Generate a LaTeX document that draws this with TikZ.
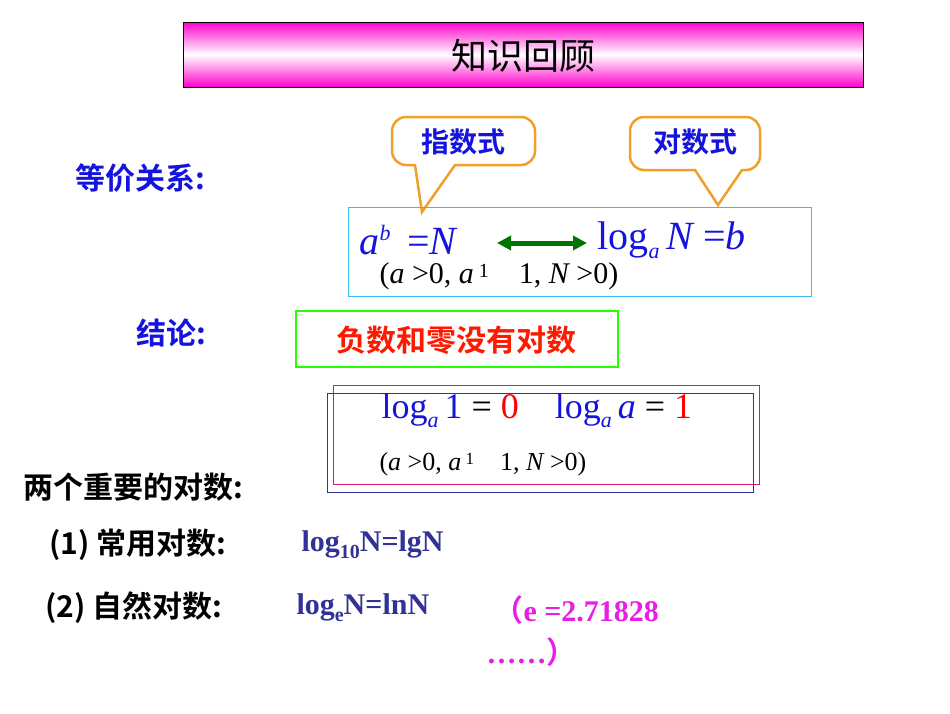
\documentclass[tikz,border=0pt]{standalone}
\usepackage{fontspec}
\setmainfont{Liberation Serif}
\newfontfamily\cjk{Noto Sans CJK SC}[BoldFont={Noto Sans CJK SC Bold}]
\usetikzlibrary{arrows.meta}
\definecolor{blu}{RGB}{20,20,220}
\definecolor{navyt}{RGB}{50,50,150}
\definecolor{orng}{RGB}{240,160,40}
\definecolor{mag}{RGB}{230,30,230}
\newcommand{\iv}[1]{{\itshape #1}}
\newcommand{\sub}[1]{\raisebox{-9pt}{\fontsize{22}{22}\selectfont\itshape #1}}
\begin{document}
\begin{tikzpicture}[x=1pt,y=-1pt,
  cn/.style={font=\cjk\bfseries\fontsize{30}{33}\selectfont},
  fm/.style={font=\fontsize{40}{44}\selectfont,text=blu},
  bl/.style={anchor=west,font=\bfseries\fontsize{30}{33}\selectfont},
  call/.style={draw=orng,line width=2.5pt,fill=white}]
\useasboundingbox (0,0) rectangle (950,713);
% title
\shade[top color=magenta!80!red,bottom color=magenta!80!red,middle color=white,draw=black,line width=0.6pt] (183,22) rectangle (863,87);
\node[font=\cjk\fontsize{36}{40}\selectfont] (title) at (523,56) {知识回顾};
\node[cn,text=blu,anchor=west] (dj) at (72,178) {等价关系:};
% callouts
\draw[call] (422,212) -- (415,165) {[rounded corners=14pt] -- (392,165) -- (392,117) -- (535,117) -- (535,165)} -- (455,165) -- cycle;
\node[text=blu,font=\cjk\bfseries\fontsize{28}{30}\selectfont] (c1) at (463,142) {指数式};
\draw[call] (718,205) -- (695,170) {[rounded corners=14pt] -- (630,170) -- (630,117) -- (760,117) -- (760,170)} -- (742,170) -- cycle;
\node[text=blu,font=\cjk\bfseries\fontsize{28}{30}\selectfont] (c2) at (695,142) {对数式};
% equivalence box
\draw[cyan!80,line width=0.8pt] (348,207) rectangle (811,296);
\node[fm,anchor=west] (f1) at (356,240) {\iv{a}\raisebox{14pt}{\fontsize{22}{22}\selectfont\itshape b}\, =\iv{N}};
\node[fm,anchor=west] (f2) at (594,240) {log\sub{a}\,\iv{N} =\iv{b}};
\coordinate (al) at (497,243); \coordinate (ar) at (587,243);
\draw[green!45!black,line width=5pt,{Triangle[length=14pt,width=14pt]}-{Triangle[length=14pt,width=14pt]}] (al) -- (ar);
\node[anchor=west,font=\fontsize{30}{33}\selectfont] (cond1) at (376,276) {(\iv{a} >0, \iv{a}\,\raisebox{6pt}{\fontsize{20}{20}\selectfont 1}\quad 1, \iv{N} >0)};
% conclusion
\node[cn,text=blu,anchor=west] (jl) at (133,333) {结论:};
\draw[green!80!lime,line width=2.5pt] (296,311) rectangle (618,367);
\node[cn,text=red!80!orange] (neg) at (456,340) {负数和零没有对数};
% special logs
\draw[magenta!70!purple,line width=0.8pt] (333,385) rectangle (759,484);
\draw[navyt,line width=0.8pt] (327,393) rectangle (753,492);
\node[fm,anchor=west,font=\fontsize{36}{40}\selectfont] (l1) at (378,411) {log\sub{a}\,1 \textcolor{black}{=} \textcolor{red}{0}\quad log\sub{a}\,\iv{a} \textcolor{black}{=} \textcolor{red}{1}};
\node[anchor=west,font=\fontsize{26}{30}\selectfont] (cond2) at (376,464) {(\iv{a} >0, \iv{a}\,\raisebox{6pt}{\fontsize{17}{17}\selectfont 1}\quad 1, \iv{N} >0)};
\node[cn,anchor=west] (two) at (20,487) {两个重要的对数:};
\node[cn,anchor=west] (one) at (46,545) {(1) 常用对数:};
\node[bl,text=navyt] (lg) at (298,545) {log\raisebox{-7pt}{\fontsize{20}{20}\selectfont 10}N=lgN};
\node[cn,anchor=west] (twon) at (42,608) {(2) 自然对数:};
\node[bl,text=navyt] (ln) at (293,608) {log\raisebox{-7pt}{\fontsize{20}{20}\selectfont e}N=lnN};
\node[bl,text=mag] (e1) at (490,610) {{\cjk （}e =2.71828};
\node[bl,text=mag] (e2) at (483,652) {……{\cjk ）}};
\end{tikzpicture}
\end{document}
